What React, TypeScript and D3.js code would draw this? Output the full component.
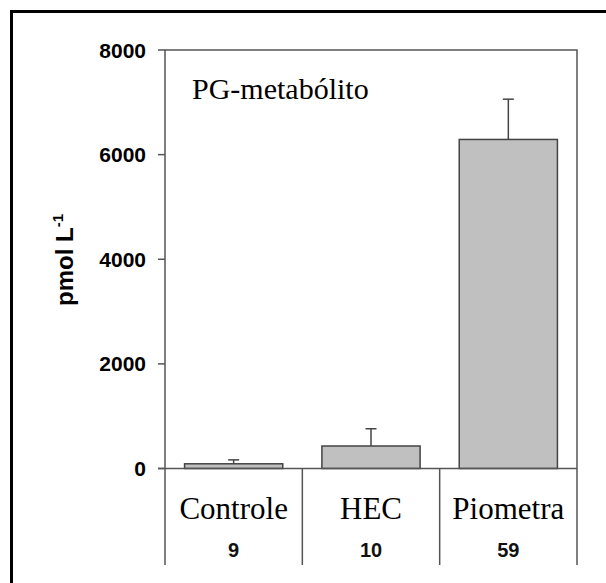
import { scaleBand, scaleLinear } from "d3";

const categories = ["Controle", "HEC", "Piometra"];
const groupSizes = ["9", "10", "59"];
const means = [90, 430, 6290];
const errors = [75, 330, 770];
const yTicks = [0, 2000, 4000, 6000, 8000];

const width = 606;
const height = 583;

export default function App() {
  const margin = { left: 165, right: 29, top: 50 };
  const zeroY = 468.5;
  const bottomY = 565;

  const x = scaleBand<string>()
    .domain(categories)
    .range([margin.left, width - margin.right])
    .paddingInner(0.285)
    .paddingOuter(0.1425);

  const y = scaleLinear().domain([0, 8000]).range([zeroY, margin.top]);

  // band edges for the divider lines
  const step = x.step();
  const bandStart = (i: number) => margin.left + i * step;

  const axisColor = "#555";
  const sans = "Arial, 'Liberation Sans', sans-serif";
  const serif = "'Times New Roman', 'Liberation Serif', serif";

  return (
    <svg
      width={width}
      height={height}
      viewBox={`0 0 ${width} ${height}`}
      style={{ position: "absolute", left: 0, top: 0, background: "#fff" }}
    >
      {/* outer border (left and top) */}
      <path d={`M11.5,${height} V11.5 H${width}`} fill="none" stroke="#000" strokeWidth={3} />

      {/* bars */}
      {categories.map((c, i) => (
        <g key={c}>
          <line
            x1={x(c)! + x.bandwidth() / 2}
            x2={x(c)! + x.bandwidth() / 2}
            y1={y(means[i])}
            y2={y(means[i] + errors[i])}
            stroke="#444"
            strokeWidth={1.5}
          />
          <line
            x1={x(c)! + x.bandwidth() / 2 - 5.5}
            x2={x(c)! + x.bandwidth() / 2 + 5.5}
            y1={y(means[i] + errors[i])}
            y2={y(means[i] + errors[i])}
            stroke="#444"
            strokeWidth={1.5}
          />
          <rect
            x={x(c)}
            y={y(means[i])}
            width={x.bandwidth()}
            height={zeroY - y(means[i])}
            fill="#c0c0c0"
            stroke="#444"
            strokeWidth={1.5}
          />
        </g>
      ))}

      {/* frame */}
      <path
        d={`M${margin.left},${bottomY} V${margin.top} H${width - margin.right} V${bottomY}`}
        fill="none"
        stroke={axisColor}
        strokeWidth={1.5}
      />
      <line x1={margin.left - 7} x2={width - margin.right} y1={zeroY} y2={zeroY} stroke={axisColor} strokeWidth={1.5} />
      {categories.slice(1).map((c, i) => (
        <line
          key={c}
          x1={bandStart(i + 1)}
          x2={bandStart(i + 1)}
          y1={zeroY}
          y2={bottomY}
          stroke={axisColor}
          strokeWidth={1.5}
        />
      ))}

      {/* y ticks */}
      {yTicks.map((t) => (
        <g key={t} transform={`translate(0,${y(t)})`}>
          <line x1={margin.left - 7} x2={margin.left} stroke={axisColor} strokeWidth={1.5} />
          <text
            x={146}
            dy="0.36em"
            textAnchor="end"
            fontFamily={sans}
            fontWeight="bold"
            fontSize={21}
            fill="#000"
          >
            {t}
          </text>
        </g>
      ))}

      {/* y label */}
      <text
        transform="translate(73,260) rotate(-90)"
        textAnchor="middle"
        fontFamily={sans}
        fontWeight="bold"
        fontSize={24}
        fill="#000"
      >
        pmol L
        <tspan dy={-10} fontSize={15}>-1</tspan>
      </text>

      {/* title */}
      <text x={192} y={99} fontFamily={serif} fontSize={30} fill="#000">
        PG-metabólito
      </text>

      {/* category labels */}
      {categories.map((c, i) => (
        <g key={c}>
          <text
            x={x(c)! + x.bandwidth() / 2}
            y={519}
            textAnchor="middle"
            fontFamily={serif}
            fontSize={31}
            fill="#000"
          >
            {c}
          </text>
          <text
            x={x(c)! + x.bandwidth() / 2}
            y={557}
            textAnchor="middle"
            fontFamily={sans}
            fontWeight="bold"
            fontSize={20}
            fill="#111"
          >
            {groupSizes[i]}
          </text>
        </g>
      ))}
    </svg>
  );
}
